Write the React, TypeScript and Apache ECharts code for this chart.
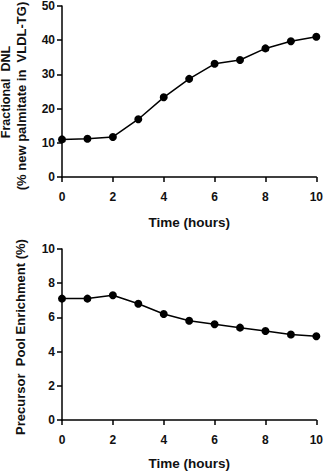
import React, { useEffect, useRef } from "react";
import * as echarts from "echarts";

const hours = [0, 1, 2, 3, 4, 5, 6, 7, 8, 9, 10];
const fractionalDNL = [11.0, 11.2, 11.7, 16.9, 23.3, 28.7, 33.1, 34.2, 37.6, 39.7, 41.0];
const precursorEnrichment = [7.1, 7.1, 7.3, 6.8, 6.2, 5.8, 5.6, 5.4, 5.2, 5.0, 4.9];

const FONT = "Liberation Sans, Arial, Helvetica, sans-serif";

export default function App() {
  const ref = useRef<HTMLDivElement>(null);
  useEffect(() => {
    if (!ref.current) return;
    const chart = echarts.init(ref.current, undefined, { renderer: "svg" });
    const axisLine = { show: true, lineStyle: { color: "#000", width: 1.5 } };
    const axisTick = { show: true, length: 5, lineStyle: { color: "#000", width: 1.5 } };
    const axisLabel = { color: "#111", fontFamily: FONT, fontWeight: "bold", fontSize: 12 };
    const xAxisBase = {
      type: "value",
      min: 0,
      max: 10,
      interval: 2,
      axisLine,
      axisTick,
      axisLabel: { ...axisLabel, margin: 14 },
      splitLine: { show: false },
      name: "Time (hours)",
      nameLocation: "middle",
      nameTextStyle: { color: "#111", fontFamily: FONT, fontWeight: "bold", fontSize: 13.5 },
    };
    const yAxisBase = {
      type: "value",
      min: 0,
      axisLine,
      axisTick,
      axisLabel: { ...axisLabel, margin: 7 },
      splitLine: { show: false },
    };
    const lineSeries = {
      type: "line",
      symbol: "circle",
      symbolSize: 8,
      itemStyle: { color: "#000" },
      lineStyle: { color: "#000", width: 1.5 },
    };
    chart.setOption({
      animation: false,
      backgroundColor: "#fff",
      grid: [
        { left: 62, right: 7, top: 5, height: 172 },
        { left: 62, right: 7, top: 249, height: 171 },
      ],
      xAxis: [
        { ...xAxisBase, gridIndex: 0, nameGap: 38 },
        { ...xAxisBase, gridIndex: 1, nameGap: 36 },
      ],
      yAxis: [
        { ...yAxisBase, gridIndex: 0, max: 50, interval: 10 },
        { ...yAxisBase, gridIndex: 1, max: 10, interval: 2 },
      ],
      series: [
        { ...lineSeries, xAxisIndex: 0, yAxisIndex: 0, data: hours.map((h, i) => [h, fractionalDNL[i]]) },
        { ...lineSeries, xAxisIndex: 1, yAxisIndex: 1, data: hours.map((h, i) => [h, precursorEnrichment[i]]) },
      ],
      graphic: [
        {
          type: "text",
          x: 6,
          y: 92,
          rotation: Math.PI / 2,
          style: {
            text: "Fractional  DNL",
            fill: "#111",
            font: `bold 12.5px ${FONT}`,
            textAlign: "center",
            textVerticalAlign: "middle",
          },
        },
        {
          type: "text",
          x: 21.5,
          y: 96,
          rotation: Math.PI / 2,
          style: {
            text: "(% new palmitate in  VLDL-TG)",
            fill: "#111",
            font: `bold 13px ${FONT}`,
            textAlign: "center",
            textVerticalAlign: "middle",
          },
        },
        {
          type: "text",
          x: 20.5,
          y: 337,
          rotation: Math.PI / 2,
          style: {
            text: "Precursor  Pool Enrichment (%)",
            fill: "#111",
            font: `bold 13px ${FONT}`,
            textAlign: "center",
            textVerticalAlign: "middle",
          },
        },
      ],
    });
    return () => chart.dispose();
  }, []);
  return (
    <div
      ref={ref}
      style={{ position: "fixed", left: 0, top: 0, width: 326, height: 473 }}
    />
  );
}
